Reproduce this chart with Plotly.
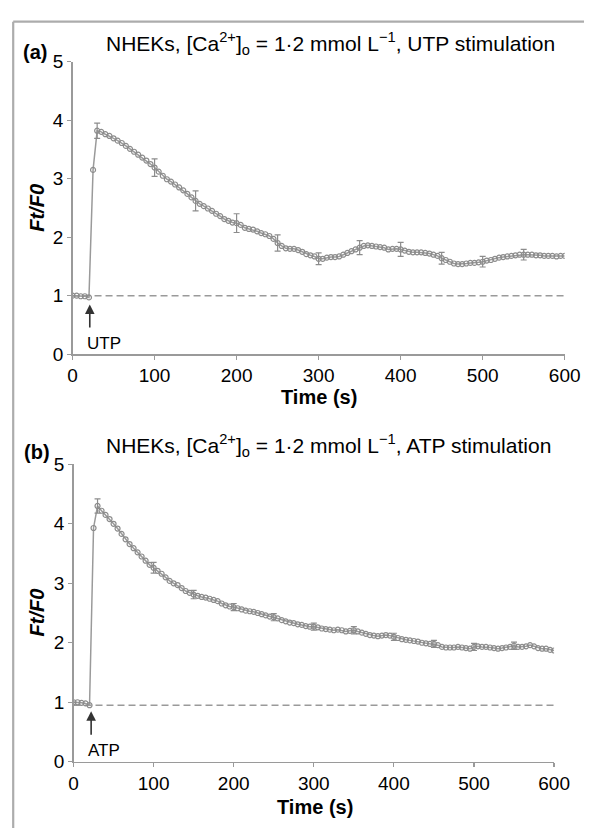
import plotly.graph_objects as go

W, H = 600, 839

# ---------------- data ----------------
time_s = list(range(0, 605, 5))

utp_ratio = [1.00, 1.00, 0.99, 0.99, 0.97, 3.15, 3.82, 3.80, 3.76, 3.73,
             3.69, 3.65, 3.61, 3.56, 3.51, 3.46, 3.41, 3.36, 3.31, 3.25,
             3.19, 3.12, 3.05, 2.99, 2.95, 2.90, 2.85, 2.80, 2.74, 2.68,
             2.62, 2.57, 2.53, 2.49, 2.45, 2.40, 2.36, 2.31, 2.28, 2.25,
             2.24, 2.21, 2.16, 2.14, 2.13, 2.10, 2.07, 2.05, 2.02, 1.97,
             1.90, 1.85, 1.81, 1.80, 1.80, 1.78, 1.75, 1.71, 1.69, 1.67,
             1.63, 1.63, 1.65, 1.66, 1.66, 1.67, 1.70, 1.73, 1.76, 1.79,
             1.82, 1.85, 1.86, 1.85, 1.84, 1.83, 1.82, 1.79, 1.80, 1.80,
             1.79, 1.77, 1.75, 1.74, 1.74, 1.74, 1.73, 1.72, 1.70, 1.68,
             1.64, 1.61, 1.58, 1.55, 1.54, 1.54, 1.55, 1.56, 1.56, 1.57,
             1.58, 1.60, 1.61, 1.63, 1.65, 1.66, 1.67, 1.68, 1.69, 1.70,
             1.70, 1.70, 1.70, 1.69, 1.69, 1.68, 1.68, 1.68, 1.67, 1.68,
             1.68]

atp_ratio = [1.00, 1.00, 0.99, 0.98, 0.95, 3.93, 4.30, 4.22, 4.15, 4.08,
             4.00, 3.92, 3.83, 3.74, 3.66, 3.59, 3.52, 3.45, 3.38, 3.31,
             3.26, 3.21, 3.16, 3.10, 3.04, 3.00, 2.97, 2.92, 2.87, 2.84,
             2.81, 2.79, 2.77, 2.76, 2.74, 2.72, 2.70, 2.66, 2.63, 2.61,
             2.60, 2.58, 2.56, 2.54, 2.53, 2.52, 2.50, 2.48, 2.46, 2.44,
             2.43, 2.41, 2.38, 2.36, 2.34, 2.33, 2.31, 2.30, 2.28, 2.27,
             2.27, 2.26, 2.24, 2.23, 2.22, 2.21, 2.22, 2.21, 2.19, 2.20,
             2.21, 2.19, 2.17, 2.15, 2.13, 2.12, 2.11, 2.12, 2.13, 2.12,
             2.10, 2.08, 2.06, 2.05, 2.04, 2.03, 2.02, 2.00, 1.99, 1.98,
             1.98, 1.96, 1.93, 1.92, 1.92, 1.92, 1.93, 1.92, 1.91, 1.90,
             1.93, 1.94, 1.93, 1.93, 1.92, 1.91, 1.90, 1.91, 1.92, 1.93,
             1.95, 1.93, 1.93, 1.94, 1.96, 1.94, 1.91, 1.90, 1.90, 1.88,
             1.87]

err_times = [30, 100, 150, 200, 250, 300, 350, 400, 450, 500, 550]
utp_err = [0.13, 0.15, 0.17, 0.16, 0.14, 0.10, 0.12, 0.12, 0.10, 0.09, 0.09]
atp_err = [0.12, 0.09, 0.07, 0.06, 0.06, 0.06, 0.06, 0.06, 0.06, 0.06, 0.06]

utp_baseline = 1.0
atp_baseline = 0.95
utp_stim_time = 21
atp_stim_time = 22

x_ticks = [0, 100, 200, 300, 400, 500, 600]
y_ticks = [0, 1, 2, 3, 4, 5]

# ---------------- styling helpers ----------------
FONT = "Liberation Sans, Arial, sans-serif"
GREY = "#8c8c8c"
LINE_GREY = "#9a9a9a"


def px_x(p):
    """page pixel x -> paper fraction"""
    return p / W


def px_y(p):
    """page pixel y -> paper fraction"""
    return 1 - p / H


fig = go.Figure()

panels = [
    dict(ratio=utp_ratio, err=utp_err, xa="x", ya="y", base=utp_baseline),
    dict(ratio=atp_ratio, err=atp_err, xa="x2", ya="y2", base=atp_baseline),
]

for p in panels:
    fig.add_shape(type="line", xref=p["xa"], yref=p["ya"],
                  x0=0, x1=600, y0=p["base"], y1=p["base"],
                  line=dict(color=LINE_GREY, width=1.5, dash="7px,4px"),
                  layer="below")
    fig.add_trace(go.Scatter(
        x=time_s, y=p["ratio"], mode="lines+markers",
        xaxis=p["xa"], yaxis=p["ya"],
        line=dict(color=LINE_GREY, width=1.5),
        marker=dict(symbol="circle-open", size=5, color=GREY,
                    line=dict(width=1.2, color=GREY)),
        showlegend=False, hoverinfo="skip"))
    err_y = [p["ratio"][time_s.index(t)] for t in err_times]
    fig.add_trace(go.Scatter(
        x=err_times, y=err_y, mode="markers",
        xaxis=p["xa"], yaxis=p["ya"],
        marker=dict(size=1, color="rgba(0,0,0,0)"),
        error_y=dict(type="data", array=p["err"], visible=True,
                     color=GREY, thickness=1.2, width=3),
        showlegend=False, hoverinfo="skip"))

axis_common = dict(
    showgrid=False, zeroline=False, showline=True,
    linecolor=LINE_GREY, linewidth=1.5,
    ticks="outside", ticklen=4, tickwidth=1.2, tickcolor=LINE_GREY,
    tickfont=dict(family=FONT, size=19, color="black"),
)

fig.update_layout(
    width=W, height=H,
    margin=dict(l=0, r=0, t=0, b=0),
    paper_bgcolor="white", plot_bgcolor="white",
    xaxis=dict(domain=[px_x(70), px_x(580)], range=[0, 600],
               tickvals=x_ticks, anchor="y", **axis_common),
    yaxis=dict(domain=[px_y(353), px_y(53)], range=[0, 5],
               tickvals=y_ticks, anchor="x", **axis_common),
    xaxis2=dict(domain=[px_x(71), px_x(569)], range=[0, 600],
                tickvals=x_ticks, anchor="y2", **axis_common),
    yaxis2=dict(domain=[px_y(771), px_y(466)], range=[0, 5],
                tickvals=y_ticks, anchor="x2", **axis_common),
)

# frame (left and top edges)
fig.add_shape(type="line", xref="paper", yref="paper",
              x0=px_x(8.5), x1=px_x(8.5), y0=px_y(12), y1=0,
              line=dict(color="#acacac", width=2.2))
fig.add_shape(type="line", xref="paper", yref="paper",
              x0=px_x(8.5), x1=1, y0=px_y(12), y1=px_y(12),
              line=dict(color="#acacac", width=2.2))

anns = []
panel_text = [
    dict(tag="(a)", stim="UTP", tag_x=31, tag_y=43, title_y=34, ytitle_y=203,
         xtitle_x=325, xtitle_y=397, xa="x", ya="y", t=utp_stim_time),
    dict(tag="(b)", stim="ATP", tag_x=33, tag_y=453, title_y=447, ytitle_y=618,
         xtitle_x=321, xtitle_y=817, xa="x2", ya="y2", t=atp_stim_time),
]
for q in panel_text:
    anns.append(dict(xref="paper", yref="paper", x=px_x(q["tag_x"]), y=px_y(q["tag_y"]),
                     text="<b>" + q["tag"] + "</b>", showarrow=False,
                     font=dict(family=FONT, size=20, color="black"),
                     xanchor="center", yanchor="middle"))
    anns.append(dict(xref="paper", yref="paper", x=px_x(103), y=px_y(q["title_y"]),
                     text="NHEKs, [Ca<sup>2+</sup>]<sub>o</sub> = 1·2 mmol L<sup>\u22121</sup>, "
                          + q["stim"] + " stimulation",
                     showarrow=False,
                     font=dict(family=FONT, size=21, color="black"),
                     xanchor="left", yanchor="middle"))
    anns.append(dict(xref="paper", yref="paper", x=px_x(33), y=px_y(q["ytitle_y"]),
                     text="<b><i>Ft/F0</i></b>", showarrow=False, textangle=-90,
                     font=dict(family=FONT, size=20, color="black"),
                     xanchor="center", yanchor="middle"))
    anns.append(dict(xref="paper", yref="paper", x=px_x(q["xtitle_x"]), y=px_y(q["xtitle_y"]),
                     text="<b>Time (s)</b>", showarrow=False,
                     font=dict(family=FONT, size=20, color="black"),
                     xanchor="center", yanchor="middle"))
    anns.append(dict(xref=q["xa"], yref=q["ya"], x=q["t"], y=0.85,
                     ax=q["t"], ay=0.43, axref=q["xa"], ayref=q["ya"],
                     text="", showarrow=True, arrowhead=2, arrowsize=1.2,
                     arrowwidth=1.6, arrowcolor="#333333"))
    anns.append(dict(xref=q["xa"], yref=q["ya"], x=q["t"] - 6, y=0.19,
                     text=q["stim"], showarrow=False,
                     font=dict(family=FONT, size=17, color="black"),
                     xanchor="left", yanchor="middle"))

fig.update_layout(annotations=anns)

# remove the browser's default 8 px body margin so the figure fills the window
fig.write_html(
    "out.html",
    config={"displayModeBar": False, "staticPlot": True},
    post_script="document.body.style.margin='0';"
                "document.documentElement.style.overflow='hidden';",
)
